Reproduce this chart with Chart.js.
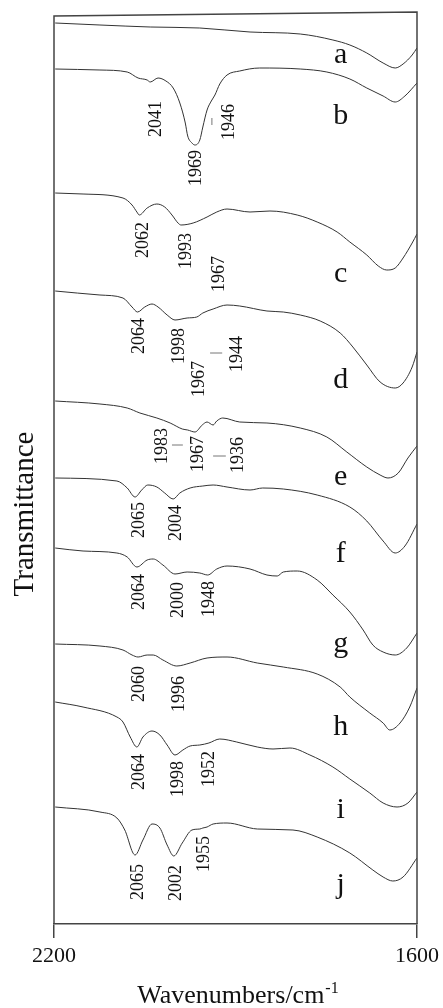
<!DOCTYPE html>
<html>
<head>
<meta charset="utf-8">
<script src="https://cdn.jsdelivr.net/npm/chart.js@4.4.1/dist/chart.umd.min.js"></script>
<style>
  html, body { margin: 0; padding: 0; background: #fff; }
  #wrap { width: 443px; height: 1008px; }
</style>
</head>
<body>
<div id="wrap"><canvas id="chart" width="443" height="1008"></canvas></div>
<script>
// ---- data: [wavenumber cm-1, transmittance (arb. units)] ----
const wavenumberTicks = [2200, 1600];

const traceA = [[2198,901],[2124,899],[2041,897],[1959,896],[1876,892],[1793,890],[1739,884],
  [1711,879],[1683,871],[1656,861],[1636,856],[1623,860],[1608,869],[1600,876]];

const traceB = [[2198,855],[2124,854],[2079,852],[2061,846],[2046,844],[2041,842],[2028,846],
  [2015,843],[2003,836],[1992,821],[1983,801],[1979,788],[1972,781],[1967,779],[1959,784],
  [1954,797],[1947,814],[1940,823],[1934,829],[1926,840],[1914,849],[1893,853],[1860,856],
  [1793,855],[1749,852],[1711,845],[1683,836],[1656,828],[1636,822],[1620,828],[1600,841]];

const traceC = [[2198,731],[2152,730],[2086,726],[2071,719],[2063,712],[2059,709],[2046,716],
  [2030,720],[2017,717],[2005,709],[1995,701],[1990,699],[1970,701],[1947,707],[1931,712],
  [1914,715],[1876,712],[1843,713],[1798,709],[1765,702],[1732,692],[1711,682],[1683,669],
  [1664,658],[1650,654],[1636,656],[1623,666],[1608,681],[1600,690]];

const traceD = [[2198,633],[2124,629],[2086,626],[2071,617],[2062,612],[2050,617],[2038,620],
  [2028,617],[2013,609],[2000,604],[1980,606],[1964,607],[1954,611],[1937,615],[1914,619],
  [1893,618],[1848,613],[1821,612],[1793,609],[1760,603],[1727,591],[1706,577],[1683,559],
  [1661,542],[1636,536],[1623,541],[1608,557],[1600,572]];

const traceE = [[2198,523],[2124,520],[2079,516],[2058,511],[2030,506],[2008,501],[1988,495],
  [1979,494],[1967,492],[1955,499],[1947,502],[1937,499],[1931,503],[1921,506],[1893,502],
  [1848,501],[1793,496],[1749,487],[1716,472],[1683,457],[1661,449],[1648,446],[1631,451],
  [1615,466],[1600,478]];

const traceF = [[2198,446],[2096,443],[2079,436],[2066,427],[2055,434],[2045,439],[2030,437],
  [2017,431],[2003,425],[1992,431],[1975,436],[1954,438],[1937,439],[1914,437],[1876,434],
  [1855,436],[1821,435],[1765,429],[1711,417],[1683,403],[1656,383],[1636,371],[1620,378],
  [1600,400]];

const traceG = [[2198,376],[2152,373],[2096,371],[2079,367],[2063,357],[2046,364],[2036,365],
  [2020,359],[2000,350],[1980,352],[1959,351],[1946,349],[1931,355],[1914,358],[1876,355],
  [1848,349],[1831,348],[1821,352],[1798,353],[1765,344],[1739,329],[1711,312],[1689,294],
  [1673,279],[1656,272],[1636,269],[1617,276],[1600,291]];

const traceH = [[2198,280],[2124,278],[2086,274],[2071,269],[2061,267],[2046,269],[2036,269],
  [2020,264],[1997,258],[1975,261],[1947,266],[1914,267],[1864,261],[1821,257],[1765,250],
  [1727,237],[1711,227],[1678,211],[1656,201],[1645,194],[1628,201],[1612,217],[1600,236]];

const traceI = [[2198,222],[2152,217],[2096,207],[2086,202],[2074,187],[2063,177],[2053,187],
  [2038,193],[2025,189],[2013,179],[2000,169],[1987,174],[1975,178],[1959,179],[1944,181],
  [1926,185],[1898,182],[1864,177],[1838,175],[1810,176],[1777,169],[1739,157],[1711,145],
  [1678,131],[1656,121],[1633,117],[1615,121],[1600,132]];

const traceJ = [[2198,117],[2124,112],[2096,106],[2083,94],[2066,69],[2053,84],[2038,100],
  [2025,96],[2013,79],[2002,68],[1988,81],[1972,94],[1959,95],[1954,96],[1947,97],[1937,100],
  [1914,101],[1864,95],[1805,94],[1765,87],[1711,71],[1673,54],[1656,47],[1640,43],[1623,47],
  [1600,66]];

const traces = [traceA, traceB, traceC, traceD, traceE, traceF, traceG, traceH, traceI, traceJ];
const traceNames = ['a', 'b', 'c', 'd', 'e', 'f', 'g', 'h', 'i', 'j'];
// letter of each curve: wavenumber and transmittance of its baseline
const letterWavenumber = 1726;
const letterLevels = [861, 800, 642, 536, 439, 362, 272, 189, 106, 31];

// band labels: text, wavenumber, transmittance (centre of the vertical text)
const peakLabels = [
  ['2041', 2033, 805], ['1969', 1967, 756], ['1946', 1912, 802],
  ['2062', 2055, 684], ['1993', 1983, 673], ['1967', 1929, 650],
  ['2064', 2061, 588], ['1998', 1995, 578], ['1967', 1963, 545], ['1944', 1899, 570],
  ['1983', 2023, 478], ['1967', 1964, 470], ['1936', 1898, 469],
  ['2065', 2061, 404], ['2004', 2000, 401],
  ['2064', 2061, 332], ['2000', 1997, 324], ['1948', 1945, 325],
  ['2060', 2061, 240], ['1996', 1995, 230],
  ['2064', 2061, 152], ['1998', 1997, 145], ['1952', 1945, 155],
  ['2065', 2063, 42], ['2002', 2000, 41], ['1955', 1954, 70]
];
// short leader marks next to some labels: w1, t1, w2, t2
const leaderMarks = [[1939, 806, 1939, 799], [1942, 571, 1922, 571],
  [2005, 479, 1987, 479], [1937, 468, 1916, 468]];

const SERIF = '"Liberation Serif", "Times New Roman", serif';

// ---- texts, frame and marks drawn on top of the chart ----
const overlay = {
  id: 'overlay',
  afterDraw(chart) {
    const { ctx, chartArea: a, scales: { x, y } } = chart;
    ctx.save();

    // frame (top edge slightly tilted like the scan)
    ctx.strokeStyle = '#444';
    ctx.lineWidth = 1.5;
    ctx.beginPath();
    ctx.moveTo(a.left, a.bottom);
    ctx.lineTo(a.left, a.top + 2);
    ctx.lineTo(a.right, a.top - 2);
    ctx.lineTo(a.right, a.bottom);
    ctx.stroke();

    // leader marks
    ctx.strokeStyle = '#777';
    ctx.lineWidth = 1;
    leaderMarks.forEach(([w1, t1, w2, t2]) => {
      ctx.beginPath();
      ctx.moveTo(x.getPixelForValue(w1), y.getPixelForValue(t1));
      ctx.lineTo(x.getPixelForValue(w2), y.getPixelForValue(t2));
      ctx.stroke();
    });

    ctx.fillStyle = '#111';

    // band labels, vertical
    const fs = 18;
    ctx.font = fs + 'px ' + SERIF;
    ctx.textAlign = 'center';
    ctx.textBaseline = 'alphabetic';
    peakLabels.forEach(([txt, w, t]) => {
      ctx.save();
      ctx.translate(x.getPixelForValue(w) + fs * 0.34, y.getPixelForValue(t));
      ctx.rotate(-Math.PI / 2);
      ctx.fillText(txt, 0, 0);
      ctx.restore();
    });

    // curve letters
    ctx.font = '30px ' + SERIF;
    traceNames.forEach((n, i) => {
      ctx.fillText(n, x.getPixelForValue(letterWavenumber), y.getPixelForValue(letterLevels[i]));
    });

    // x title with superscript
    const main = 'Wavenumbers/cm', sup = '-1';
    ctx.font = '26px ' + SERIF;
    const wMain = ctx.measureText(main).width;
    ctx.font = '16px ' + SERIF;
    const wSup = ctx.measureText(sup).width;
    const x0 = (a.left + a.right) / 2 + 2 - (wMain + wSup) / 2;
    ctx.textAlign = 'left';
    ctx.font = '26px ' + SERIF;
    ctx.fillText(main, x0, 1003);
    ctx.font = '16px ' + SERIF;
    ctx.fillText(sup, x0 + wMain + 1, 993);

    // y title
    ctx.save();
    ctx.font = '29px ' + SERIF;
    ctx.textAlign = 'center';
    ctx.translate(33, 514);
    ctx.rotate(-Math.PI / 2);
    ctx.fillText('Transmittance', 0, 0);
    ctx.restore();

    ctx.restore();
  }
};

const chart = new Chart(document.getElementById('chart'), {
  type: 'line',
  data: {
    datasets: traces.map((tr, i) => ({
      label: traceNames[i],
      data: tr.map(([w, t]) => ({ x: w, y: t })),
      borderColor: '#333',
      borderWidth: 1,
      pointRadius: 0,
      fill: false,
      cubicInterpolationMode: 'monotone'
    }))
  },
  options: {
    responsive: false,
    animation: false,
    devicePixelRatio: 1,
    layout: { padding: { top: 14, right: 26, left: 0, bottom: 0 } },
    plugins: { legend: { display: false }, tooltip: { enabled: false } },
    scales: {
      x: {
        type: 'linear',
        min: 1600,
        max: 2200,
        reverse: true,
        afterBuildTicks: s => { s.ticks = wavenumberTicks.map(v => ({ value: v })); },
        afterFit: s => { s.height = 84; s.paddingLeft = 0; s.paddingRight = 0; },
        grid: { drawOnChartArea: false, drawTicks: true, tickLength: 14, color: '#444', lineWidth: 1.5 },
        border: { display: true, color: '#444', width: 1.5 },
        ticks: {
          font: { family: SERIF, size: 22 },
          color: '#111',
          padding: 5,
          maxRotation: 0,
          autoSkip: false,
          callback: v => String(v)
        }
      },
      y: {
        min: 0,
        max: 910,
        afterFit: s => { s.width = 54; },
        ticks: { display: false },
        grid: { display: false },
        border: { display: false }
      }
    }
  },
  plugins: [overlay]
});
</script>
</body>
</html>
